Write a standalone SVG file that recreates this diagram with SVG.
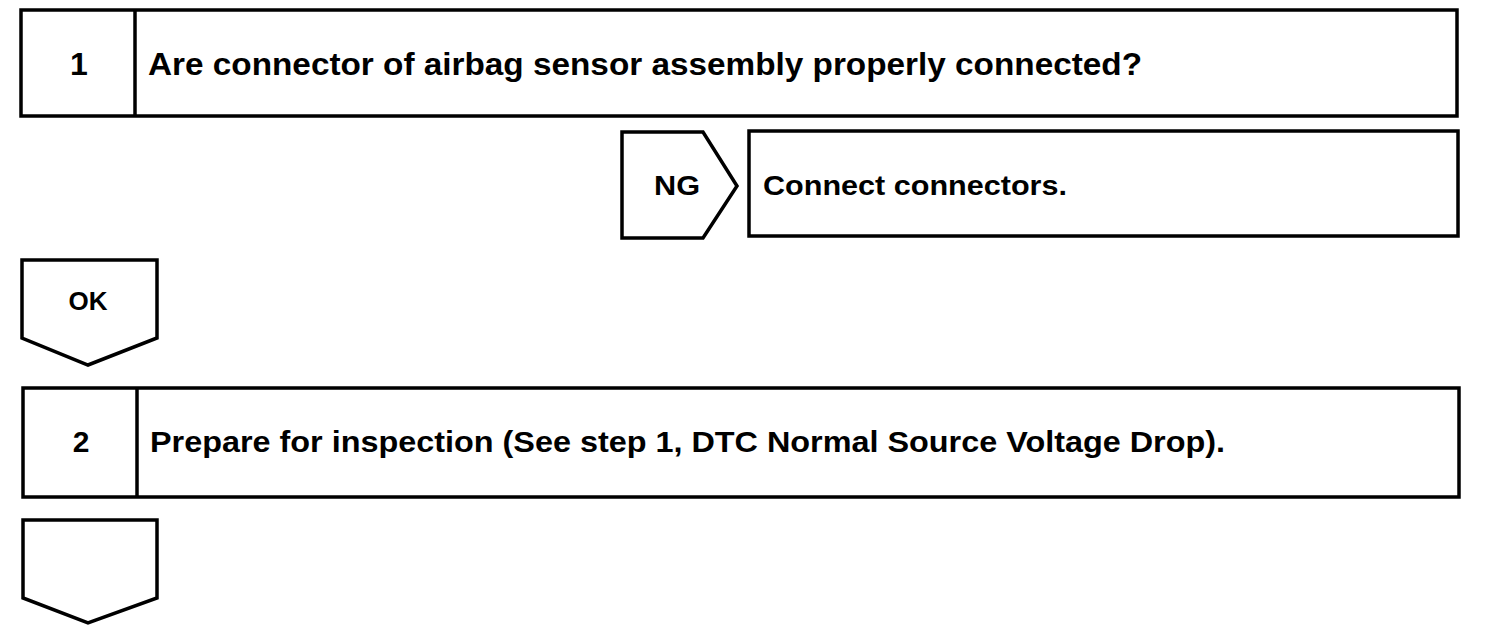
<svg xmlns="http://www.w3.org/2000/svg" width="1504" height="642" viewBox="0 0 1504 642">
<style>
.s{fill:#fff;stroke:#000;stroke-width:3.5;stroke-linejoin:miter}
.t{font-family:"Liberation Sans",Arial,sans-serif;font-weight:bold;fill:#000}
.c{text-anchor:middle}
.f1{font-size:32px}
.f2{font-size:30px}
.f3{font-size:28px}
.f4{font-size:26px}
</style>
<rect width="1504" height="642" fill="#fff"/>
<g id="step1">
<rect class="s" x="21" y="10" width="1436" height="106"/>
<line class="s" x1="135" y1="10" x2="135" y2="116"/>
<text class="t c f1" x="79" y="75">1</text>
<text class="t f1" x="148" y="75" textLength="994" lengthAdjust="spacingAndGlyphs">Are connector of airbag sensor assembly properly connected?</text>
</g>
<g id="ng">
<polygon class="s" points="622,132 703,132 737,186 703,238 622,238"/>
<text class="t c f3" x="677" y="195" textLength="46" lengthAdjust="spacingAndGlyphs">NG</text>
</g>
<g id="fix">
<rect class="s" x="749" y="131" width="709" height="105"/>
<text class="t f3" x="763" y="195" textLength="304" lengthAdjust="spacingAndGlyphs">Connect connectors.</text>
</g>
<g id="ok">
<polygon class="s" points="22,260 157,260 157,338 88,365 22,338"/>
<text class="t c f4" x="88" y="310">OK</text>
</g>
<g id="step2">
<rect class="s" x="23" y="388" width="1436" height="109"/>
<line class="s" x1="137" y1="388" x2="137" y2="497"/>
<text class="t c f2" x="81" y="452">2</text>
<text class="t f2" x="150" y="452" textLength="1075" lengthAdjust="spacingAndGlyphs">Prepare for inspection (See step 1, DTC Normal Source Voltage Drop).</text>
</g>
<g id="next">
<polygon class="s" points="23,520 157,520 157,598 88,623 23,598"/>
</g>
<g id="connectors"></g>
</svg>
